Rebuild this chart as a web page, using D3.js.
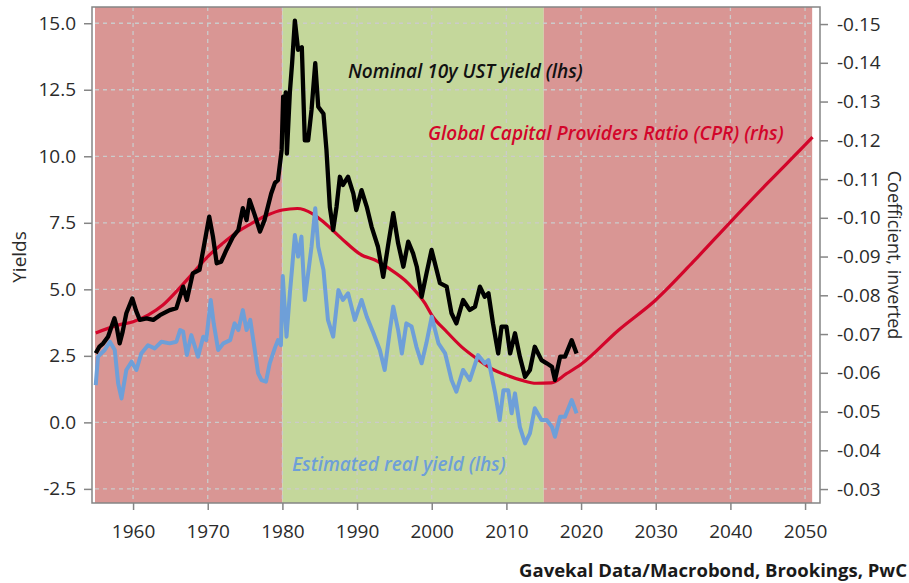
<!DOCTYPE html>
<html>
<head>
<meta charset="utf-8">
<script src="https://cdn.jsdelivr.net/npm/d3@7"></script>
<style>
body { margin: 0; background: #fff; }
text { font-family: "Open Sans", sans-serif; }
</style>
</head>
<body>
<div id="vis"></div>
<script>
// ---- data ----
var nomYears = [1955.0,1955.5,1956.0,1956.65,1957.5,1957.8,1958.2,1958.6,1959.1,1959.9,1960.4,1960.9,1961.8,1962.7,1963.6,1964.9,1965.8,1966.7,1967.2,1968.0,1968.9,1969.4,1970.2,1970.7,1971.2,1971.8,1972.5,1973.4,1974.1,1974.7,1975.2,1975.6,1976.3,1977.0,1977.6,1978.5,1979.0,1979.4,1979.9,1980.1,1980.3,1980.45,1980.6,1981.0,1981.3,1981.67,1982.1,1982.6,1983.0,1983.45,1983.9,1984.4,1984.8,1985.5,1985.9,1986.35,1986.8,1987.25,1987.7,1988.1,1988.8,1989.5,1989.9,1990.6,1991.3,1991.95,1992.8,1993.5,1994.2,1994.85,1995.5,1996.2,1996.85,1997.5,1998.0,1998.65,1999.3,1999.98,2001.1,2002.0,2002.65,2003.3,2004.2,2005.1,2005.8,2006.45,2007.1,2007.6,2008.2,2008.9,2009.35,2010.0,2010.5,2011.15,2011.8,2012.5,2013.15,2013.8,2014.7,2015.4,2016.1,2016.5,2017.2,2017.85,2018.75,2019.4];
var nomValues = [2.6,2.85,2.97,3.22,3.91,3.6,2.97,3.4,4.1,4.66,4.2,3.85,3.91,3.85,4.03,4.22,4.29,5.1,4.6,5.6,5.73,6.48,7.73,6.98,5.98,6.04,6.48,6.98,7.23,8.05,7.6,8.36,7.79,7.17,7.6,8.6,9.0,9.1,10.24,12.24,11.5,12.4,10.1,12.4,13.5,15.1,14.0,14.1,10.6,10.6,11.74,13.5,11.86,11.6,10.24,8.1,7.23,8.1,9.23,8.92,9.23,8.6,7.98,8.73,8.1,7.35,6.6,5.47,6.73,7.86,6.73,5.85,6.79,6.35,5.85,4.72,5.6,6.48,5.23,5.1,4.1,3.72,4.6,4.22,4.35,5.1,4.72,4.85,3.72,2.59,3.6,3.6,2.59,3.35,2.47,1.71,1.97,2.84,2.34,2.22,2.09,1.59,2.47,2.47,3.09,2.59];

var realYears = [1955.0,1955.3,1956.2,1956.9,1957.55,1958.0,1958.45,1959.1,1959.8,1960.45,1961.1,1962.0,1962.9,1963.8,1964.9,1965.8,1966.3,1966.7,1967.2,1967.8,1968.7,1969.4,1969.8,1970.4,1970.8,1971.4,1972.1,1973.0,1973.6,1974.1,1974.7,1975.2,1975.7,1976.3,1976.75,1977.2,1977.8,1978.3,1979.0,1979.4,1979.8,1980.05,1980.55,1981.0,1981.3,1981.67,1982.1,1982.55,1983.0,1983.45,1983.9,1984.4,1984.8,1985.5,1986.1,1986.8,1987.5,1988.1,1988.8,1989.7,1990.6,1991.3,1992.2,1993.05,1993.7,1994.4,1994.85,1995.5,1996.0,1996.6,1997.3,1997.95,1998.65,1999.3,2000.0,2000.9,2001.8,2002.65,2003.3,2004.2,2005.1,2006.2,2007.1,2007.6,2008.5,2009.1,2009.6,2010.25,2010.7,2011.15,2011.8,2012.5,2013.15,2013.8,2014.7,2015.4,2016.1,2016.5,2017.2,2017.85,2018.75,2019.4];
var realValues = [1.4,2.47,2.72,3.03,2.72,1.47,0.9,1.97,2.28,1.97,2.59,2.9,2.78,3.03,2.97,3.03,3.47,3.41,2.53,3.28,2.47,3.22,3.09,4.6,3.72,2.72,2.97,3.09,3.72,3.47,4.22,3.47,3.85,2.72,1.84,1.59,1.53,2.22,2.8,3.09,2.9,5.5,3.22,4.85,5.8,7.04,6.23,6.98,4.6,5.6,6.6,8.05,6.6,5.73,3.85,3.22,4.97,4.6,4.85,3.85,4.6,3.97,3.35,2.72,1.97,3.47,4.35,3.47,2.59,3.72,3.6,2.84,2.22,3.0,3.97,2.97,2.59,1.59,1.15,1.97,1.59,2.53,2.22,2.34,1.09,0.09,1.21,1.21,0.34,1.09,-0.17,-0.79,-0.41,0.53,0.09,0.09,-0.17,-0.54,0.21,0.21,0.84,0.34];

var cprYears = [1955,1958,1960,1962,1964,1966,1968,1970,1972,1974,1976,1978,1980,1982,1984,1985.7,1987.9,1990.6,1992.4,1994.2,1996.85,1999.1,2000,2002,2004,2006,2008,2010,2012,2014,2016,2018,2020,2025,2030,2035,2040,2045,2050,2051];
var cprValues = [-0.0703,-0.0723,-0.0732,-0.0749,-0.0775,-0.0814,-0.0857,-0.0900,-0.0934,-0.0964,-0.0987,-0.1007,-0.1020,-0.1024,-0.1011,-0.0986,-0.0947,-0.0904,-0.0891,-0.0870,-0.0831,-0.0779,-0.0749,-0.0706,-0.0667,-0.0637,-0.0611,-0.0594,-0.0581,-0.0573,-0.0574,-0.0597,-0.0622,-0.0710,-0.0788,-0.0886,-0.0989,-0.1090,-0.1188,-0.1208];

// shaded periods
var periodStart = [1954.9, 1980, 2015];
var periodEnd   = [1980, 2015, 2050.95];
var periodColor = ["#d99694", "#c4d79b", "#d99694"];

// axis ticks
var xTicks = [1960,1970,1980,1990,2000,2010,2020,2030,2040,2050];
var xTickLabels = ["1960","1970","1980","1990","2000","2010","2020","2030","2040","2050"];
var leftTicks = [-2.5,0,2.5,5,7.5,10,12.5,15];
var leftTickLabels = ["-2.5","0.0","2.5","5.0","7.5","10.0","12.5","15.0"];
var rightTicks = [-0.03,-0.04,-0.05,-0.06,-0.07,-0.08,-0.09,-0.10,-0.11,-0.12,-0.13,-0.14,-0.15];
var rightTickLabels = ["-0.03","-0.04","-0.05","-0.06","-0.07","-0.08","-0.09","-0.10","-0.11","-0.12","-0.13","-0.14","-0.15"];

// Layout Settings
var width = 909, height = 583;
var plotL = 92, plotR = 820, plotT = 7, plotB = 503;

var svg = d3.select("#vis")
			.append("svg")
			.attr("width", width)
			.attr("height", height);

var x = d3.scaleLinear()
		  .domain([1954.5, 2052])
		  .range([plotL, plotR]);

var yL = d3.scaleLinear()
		   .domain([-3.03, 15.61])
		   .range([plotB, plotT]);

// right axis is inverted: -0.15 at the top
var yR = d3.scaleLinear()
		   .domain([-0.0264, -0.1544])
		   .range([plotB, plotT]);

// background periods
svg.append("g")
   .selectAll("rect")
   .data(d3.range(periodStart.length))
   .enter()
   .append("rect")
   .attr("x", function(i) {return x(periodStart[i]);})
   .attr("y", plotT)
   .attr("width", function(i) {return x(periodEnd[i]) - x(periodStart[i]);})
   .attr("height", plotB - plotT)
   .attr("fill", function(i) {return periodColor[i];});

// grid
var grid = svg.append("g")
			  .attr("class", "grid")
			  .attr("stroke", "#cbcbcb")
			  .attr("stroke-width", 1.3)
			  .attr("stroke-dasharray", "4,4");

grid.selectAll(".h")
	.data(leftTicks)
	.enter()
	.append("line")
	.attr("x1", x(periodStart[0]))
	.attr("x2", x(periodEnd[2]))
	.attr("y1", yL)
	.attr("y2", yL);

grid.selectAll(".v")
	.data(xTicks)
	.enter()
	.append("line")
	.attr("x1", x)
	.attr("x2", x)
	.attr("y1", plotT)
	.attr("y2", plotB);

// lines
var cprLine = d3.line()
				.x(function(d, i) {return x(cprYears[i]);})
				.y(function(d) {return yR(d);})
				.curve(d3.curveMonotoneX);

var realLine = d3.line()
				 .x(function(d, i) {return x(realYears[i]);})
				 .y(function(d) {return yL(d);});

var nomLine = d3.line()
				.x(function(d, i) {return x(nomYears[i]);})
				.y(function(d) {return yL(d);});

svg.append("path")
   .attr("d", cprLine(cprValues))
   .attr("fill", "none")
   .attr("stroke", "#d3052a")
   .attr("stroke-width", 3.2);

svg.append("path")
   .attr("d", realLine(realValues))
   .attr("fill", "none")
   .attr("stroke", "#6e9fd8")
   .attr("stroke-width", 4)
   .attr("stroke-linejoin", "round");

svg.append("path")
   .attr("d", nomLine(nomValues))
   .attr("fill", "none")
   .attr("stroke", "#000")
   .attr("stroke-width", 4.3)
   .attr("stroke-linejoin", "round");

// frame
svg.append("rect")
   .attr("x", plotL)
   .attr("y", plotT)
   .attr("width", plotR - plotL)
   .attr("height", plotB - plotT)
   .attr("fill", "none")
   .attr("stroke", "#858585")
   .attr("stroke-width", 1.5);

// axes
var xAxis = svg.append("g")
			   .attr("transform", "translate(0," + plotB + ")")
			   .call(d3.axisBottom(x).tickValues(xTicks).tickSize(7).tickPadding(15)
					 .tickFormat(function(d, i) {return xTickLabels[i];}));

var leftAxis = svg.append("g")
				  .attr("transform", "translate(" + plotL + ",0)")
				  .call(d3.axisLeft(yL).tickValues(leftTicks).tickSize(8).tickPadding(8)
						.tickFormat(function(d, i) {return leftTickLabels[i];}));

var rightAxis = svg.append("g")
				   .attr("transform", "translate(" + plotR + ",0)")
				   .call(d3.axisRight(yR).tickValues(rightTicks).tickSize(8).tickPadding(9)
						 .tickFormat(function(d, i) {return rightTickLabels[i];}));

[xAxis, leftAxis, rightAxis].forEach(function(a) {
	a.select(".domain").remove();
	a.selectAll(".tick line").attr("stroke", "#858585").attr("stroke-width", 1.5);
	a.selectAll(".tick text")
	 .attr("fill", "#2b2b2b")
	 .style("font-size", "19px")
	 .style("font-family", "'Open Sans', sans-serif");
});

// axis titles
svg.append("text")
   .attr("transform", "translate(26,257) rotate(-90)")
   .attr("text-anchor", "middle")
   .attr("fill", "#2b2b2b")
   .style("font-size", "19px")
   .text("Yields");

svg.append("text")
   .attr("transform", "translate(888,255) rotate(90)")
   .attr("text-anchor", "middle")
   .attr("fill", "#2b2b2b")
   .style("font-size", "18px")
   .text("Coefficient, inverted");

// series labels
svg.append("text")
   .attr("x", 348)
   .attr("y", 78)
   .attr("fill", "#111")
   .style("font-size", "19px")
   .style("font-style", "italic")
   .style("font-weight", 600)
   .text("Nominal 10y UST yield (lhs)");

svg.append("text")
   .attr("x", 428)
   .attr("y", 140)
   .attr("fill", "#d3052a")
   .style("font-size", "19px")
   .style("font-style", "italic")
   .style("font-weight", 600)
   .text("Global Capital Providers Ratio (CPR) (rhs)");

svg.append("text")
   .attr("x", 292)
   .attr("y", 471)
   .attr("fill", "#6e9fd8")
   .style("font-size", "19px")
   .style("font-style", "italic")
   .style("font-weight", 600)
   .text("Estimated real yield (lhs)");

// source
svg.append("text")
   .attr("x", 907)
   .attr("y", 577)
   .attr("text-anchor", "end")
   .attr("fill", "#1a1a1a")
   .style("font-size", "18.5px")
   .style("font-weight", 700)
   .text("Gavekal Data/Macrobond, Brookings, PwC");
</script>
</body>
</html>
